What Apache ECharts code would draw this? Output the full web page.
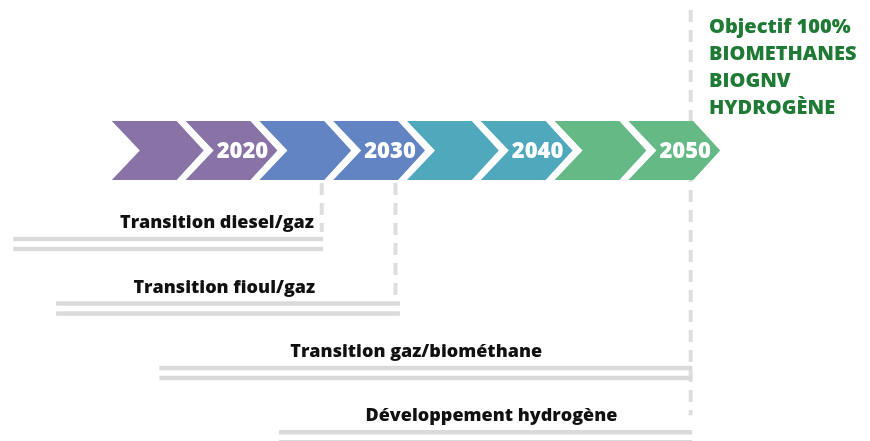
<!DOCTYPE html>
<html><head><meta charset="utf-8">
<script src="https://cdn.jsdelivr.net/npm/echarts@6/dist/echarts.min.js"></script>
<style>html,body{margin:0;padding:0;background:#fff}#c{width:870px;height:441px}</style>
</head><body><div id="c"></div>
<script>
// ---- data ----
const chevronEnds = [2015, 2020, 2025, 2030, 2035, 2040, 2045, 2050];
const chevronLabels = ['', '2020', '', '2030', '', '2040', '', '2050'];
const chevronPhase = [0, 0, 1, 1, 2, 2, 3, 3];
const phaseColors = ['#8872a6', '#6284c2', '#4fa8bb', '#64b984'];
const transitions = ['Transition diesel/gaz', 'Transition fioul/gaz', 'Transition gaz/biométhane', 'Développement hydrogène'];
const transStart = [2004, 2006.9, 2013.9, 2022];
const transEnd = [2025, 2030.2, 2050, 2050];
const transLabelAt = [2017.8, 2018.3, 2031.3, 2036.4];
const milestoneYears = [2025, 2030, 2050];
const milestoneRow = [0, 1, 3];
const milestoneToTop = [false, false, true];
const objectiveLines = ['Objectif 100%', 'BIOMETHANES', 'BIOGNV', 'HYDROGÈNE'];

const FONT = '"Open Sans", "Noto Sans", sans-serif';
const chart = echarts.init(document.getElementById('c'), null, {renderer: 'canvas'});

const option = {
  animation: false,
  backgroundColor: '#ffffff',
  title: {
    text: objectiveLines.join('\n'),
    left: 709, top: 14, padding: 0,
    textStyle: {color: '#1f7a35', fontFamily: FONT, fontWeight: 800, fontSize: 20, lineHeight: 27}
  },
  grid: [
    {left: 0, right: 0, top: 121, height: 59},
    {left: 0, right: 0, top: 211.8, bottom: 0}
  ],
  xAxis: [
    {type: 'value', gridIndex: 0, min: 2003.1, max: 2062.05, show: false},
    {type: 'value', gridIndex: 1, min: 2003.1, max: 2062.05, show: false}
  ],
  yAxis: [
    {type: 'value', gridIndex: 0, min: 0, max: 1, show: false},
    {type: 'value', gridIndex: 1, min: -0.5, max: 3.057, inverse: true, show: false}
  ],
  series: [
    {
      type: 'custom', name: 'milestones', xAxisIndex: 1, yAxisIndex: 1, z: 1, clip: false,
      data: milestoneYears.map((y, i) => [y, milestoneRow[i], i]),
      renderItem(params, api) {
        const p = api.coord([api.value(0), api.value(1)]);
        const i = api.value(2);
        const x = p[0] - 1.5;
        const y1 = milestoneToTop[i] ? 10 : 183;
        const y2 = p[1] - (milestoneToTop[i] ? 22 : 12);
        return {type: 'line', shape: {x1: x, y1: y1, x2: x, y2: y2},
          style: {stroke: '#dedede', lineWidth: 4, lineDash: [12, 8]}};
      }
    },
    {
      type: 'custom', name: 'timeline', xAxisIndex: 0, yAxisIndex: 0, z: 2, clip: false,
      data: chevronEnds.map((e, i) => [e, i]),
      renderItem(params, api) {
        const end = api.value(0);
        const i = api.value(1);
        const top = api.coord([end, 1])[1];
        const bot = api.coord([end, 0])[1];
        const mid = (top + bot) / 2;
        const left = api.coord([end - 5, 0])[0] + 10;
        const right = api.coord([end, 0])[0] + 1;
        const tip = right + 27;
        const notch = left + 28;
        const children = [{
          type: 'polygon',
          shape: {points: [[left, top], [right, top], [tip, mid], [right, bot], [left, bot], [notch, mid]]},
          style: {fill: phaseColors[chevronPhase[i]]}
        }];
        if (chevronLabels[i]) {
          children.push({type: 'text', style: {text: chevronLabels[i], x: right - 8, y: mid + 1,
            fill: '#ffffff', font: '800 22px ' + FONT, align: 'center', verticalAlign: 'middle'}});
        }
        return {type: 'group', children};
      }
    },
    {
      type: 'custom', name: 'transitions', xAxisIndex: 1, yAxisIndex: 1, z: 3, clip: false,
      data: transitions.map((t, i) => [transStart[i], transEnd[i], i, transLabelAt[i]]),
      renderItem(params, api) {
        const i = api.value(2);
        const a = api.coord([api.value(0), i]);
        const b = api.coord([api.value(1), i]);
        const c = api.coord([api.value(3), i]);
        const yc = a[1];
        const w = b[0] - a[0];
        return {type: 'group', children: [
          {type: 'rect', shape: {x: a[0], y: yc - 5 - 2.25, width: w, height: 4.5}, style: {fill: '#dadada'}},
          {type: 'rect', shape: {x: a[0], y: yc + 5 - 2.25, width: w, height: 4.5}, style: {fill: '#dadada'}},
          {type: 'text', style: {text: transitions[i], x: c[0], y: yc - 21, fill: '#111111',
            font: '800 18px ' + FONT, align: 'center', verticalAlign: 'middle'}}
        ]};
      }
    }
  ]
};
chart.setOption(option);
</script>
</body></html>
